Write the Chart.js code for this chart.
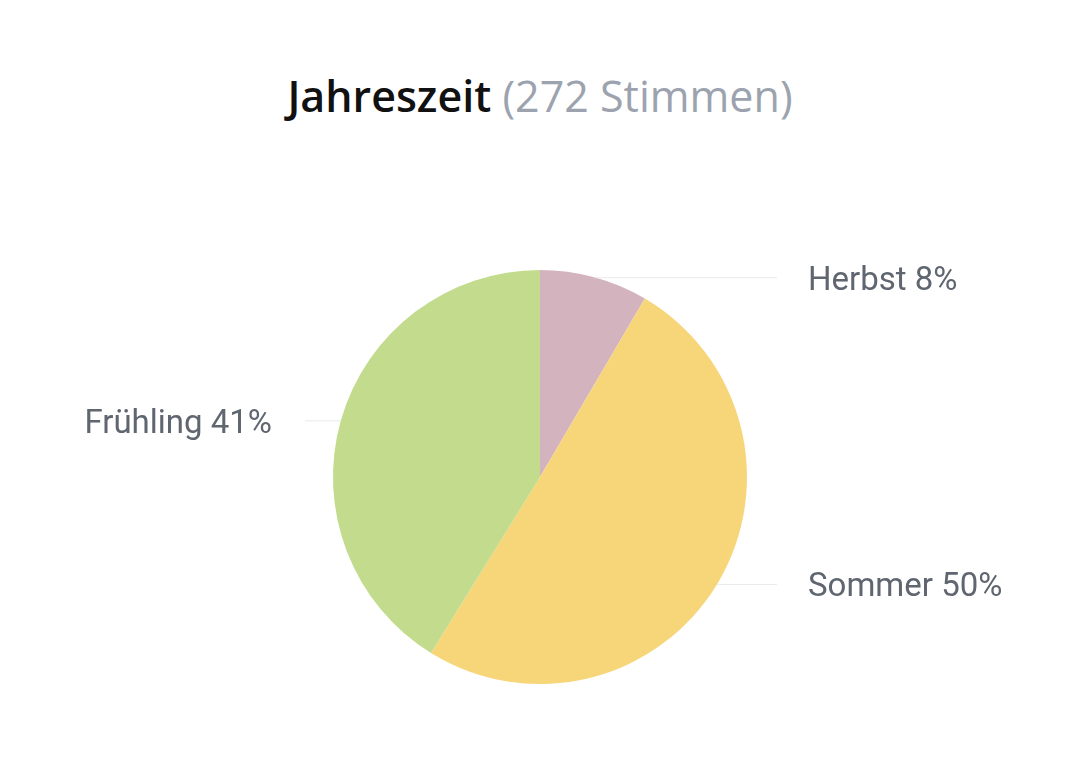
<!DOCTYPE html>
<html lang="de">
<head>
  <meta charset="UTF-8">
  <title>Jahreszeit</title>
  <script src="https://cdn.jsdelivr.net/npm/chart.js"></script>
  <style>
    body {
      margin: 0;
      background: #ffffff;
      width: 1080px;
      height: 784px;
      position: relative;
      overflow: hidden;
    }

    .title {
      position: absolute;
      top: 66px;
      left: 0;
      width: 1080px;
      text-align: center;
      font-family: "Open Sans", sans-serif;
      font-size: 43px;
      line-height: 60px;
      color: #111111;
      font-weight: 600;
    }

    .title span {
      color: #9ca3af;
      font-weight: 400;
    }

    #wrap {
      position: absolute;
      left: 0;
      top: 0;
      width: 1080px;
      height: 784px;
    }
  </style>
</head>
<body>
  <div class="title">Jahreszeit <span>(272 Stimmen)</span></div>
  <div id="wrap"><canvas id="pie"></canvas></div>

  <script>
    const labels = ['Herbst', 'Sommer', 'Frühling'];
    const votes = [23, 137, 112];
    const colors = ['#d3b3bd', '#f7d67a', '#c2db8c'];

    const total = votes.reduce((a, b) => a + b, 0);

    // leader lines + labels next to each slice
    const sideLabels = {
      id: 'sideLabels',
      afterDatasetsDraw(chart) {
        const ctx = chart.ctx;
        const meta = chart.getDatasetMeta(0);
        ctx.save();
        ctx.font = '33px Roboto';
        ctx.textBaseline = 'middle';
        meta.data.forEach((arc, i) => {
          const p = arc.getProps(['x', 'y', 'startAngle', 'endAngle', 'outerRadius'], true);
          const mid = (p.startAngle + p.endAngle) / 2;
          const x = p.x + Math.cos(mid) * p.outerRadius;
          const y = p.y + Math.sin(mid) * p.outerRadius;
          const right = Math.cos(mid) >= 0;
          const endX = right ? 777 : 305;

          ctx.strokeStyle = '#e8eaed';
          ctx.lineWidth = 1;
          ctx.beginPath();
          ctx.moveTo(x, y + 0.5);
          ctx.lineTo(endX, y + 0.5);
          ctx.stroke();

          const pct = Math.round(votes[i] / total * 100);
          ctx.fillStyle = '#5f6670';
          ctx.textAlign = right ? 'left' : 'right';
          ctx.fillText(labels[i] + ' ' + pct + '%', right ? endX + 31 : endX - 33, y + 4);
        });
        ctx.restore();
      }
    };

    new Chart(document.getElementById('pie'), {
      type: 'pie',
      data: {
        labels: labels,
        datasets: [{
          data: votes,
          backgroundColor: colors,
          borderWidth: 0
        }]
      },
      options: {
        responsive: true,
        maintainAspectRatio: false,
        animation: false,
        layout: { padding: { top: 270, bottom: 100, left: 0, right: 0 } },
        plugins: {
          legend: { display: false },
          tooltip: { enabled: false }
        }
      },
      plugins: [sideLabels]
    });
  </script>
</body>
</html>
